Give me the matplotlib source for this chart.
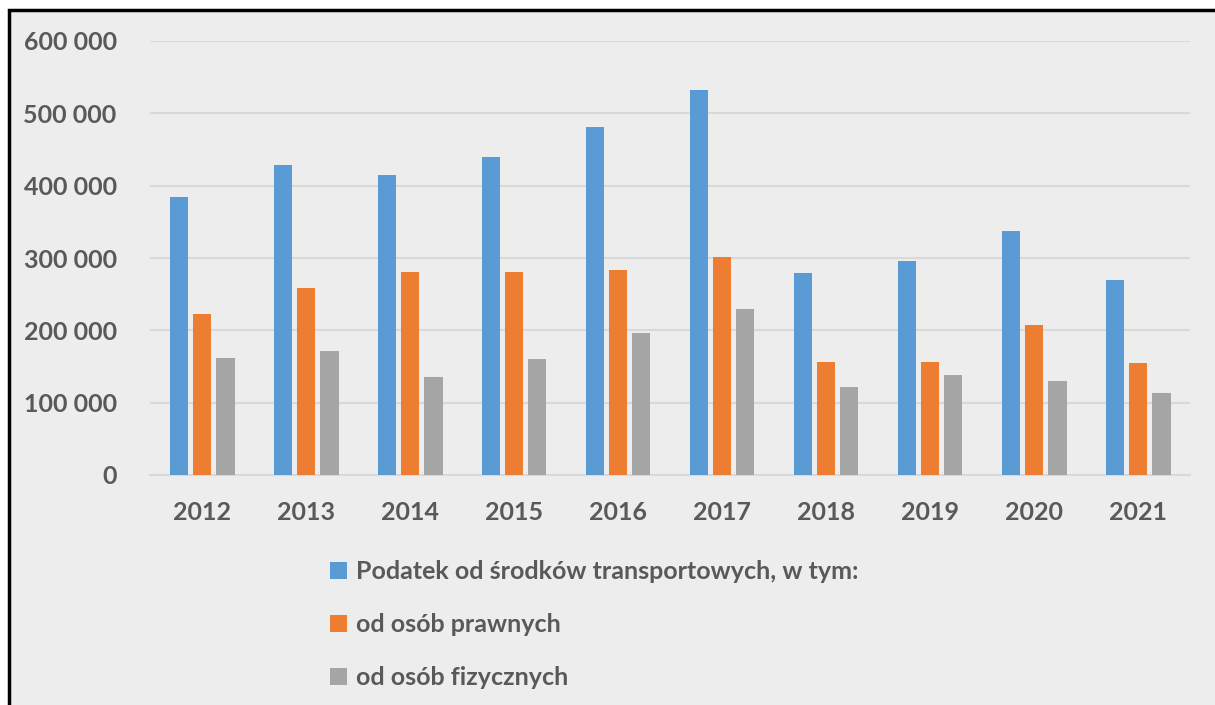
import numpy as np
import matplotlib
matplotlib.use("Agg")
import matplotlib.pyplot as plt
from matplotlib.patches import Rectangle
from matplotlib.ticker import FuncFormatter

# dane
lata = ["2012", "2013", "2014", "2015", "2016", "2017", "2018", "2019", "2020", "2021"]
podatek_ogolem = [384000, 429000, 415000, 440000, 481000, 532000, 279000, 296000, 338000, 269000]
osoby_prawne = [222000, 258000, 280000, 280000, 284000, 301000, 156000, 156000, 208000, 155000]
osoby_fizyczne = [162000, 171000, 135000, 160000, 196000, 230000, 122000, 138000, 130000, 114000]
etykiety = ["Podatek od środków transportowych, w tym:", "od osób prawnych", "od osób fizycznych"]

kolory = ["#5B9BD5", "#ED7D31", "#A5A5A5"]
tlo = "#EDEDED"
tekst = "#595959"

plt.rcParams['font.family'] = ['Lato', 'DejaVu Sans']

fig = plt.figure(figsize=(12.15, 7.05), dpi=100, facecolor="white")
# tlo z czarna ramka (lewa i gorna krawedz widoczne)
fig.patches.append(Rectangle((9 / 1215, -0.1), 1.2, 1 - 10 / 705 + 0.1, transform=fig.transFigure,
                             facecolor=tlo, edgecolor="black", linewidth=2.5, zorder=-10))

ax = fig.add_axes([150 / 1215, 1 - 475 / 705, (1190 - 150) / 1215, (475 - 41) / 705])
ax.set_facecolor("none")

x = np.arange(len(lata))
w = 0.175
off = 0.225
for i, (seria, nazwa) in enumerate(zip([podatek_ogolem, osoby_prawne, osoby_fizyczne], etykiety)):
    ax.bar(x + (i - 1) * off, seria, width=w, color=kolory[i], label=nazwa, zorder=3)

ax.set_xlim(-0.5, len(lata) - 0.5)
ax.set_ylim(0, 600000)
ax.set_yticks(np.arange(0, 600001, 100000))
ax.yaxis.set_major_formatter(FuncFormatter(lambda v, p: f"{int(v):,}".replace(",", " ")))
ax.set_xticks(x)
ax.set_xticklabels(lata)
ax.grid(axis="y", color="#D9D9D9", linewidth=1.5, zorder=0)
for s in ["top", "right", "left"]:
    ax.spines[s].set_visible(False)
ax.spines["bottom"].set_color("#D9D9D9")
ax.spines["bottom"].set_linewidth(1.5)
ax.tick_params(axis="both", length=0, labelsize=18, labelcolor=tekst)
ax.tick_params(axis="y", pad=24)
ax.tick_params(axis="x", pad=19)
for t in ax.get_xticklabels() + ax.get_yticklabels():
    t.set_fontweight("bold")

leg = fig.legend(loc="upper left", bbox_to_anchor=(330 / 1215, 1 - 560 / 705), frameon=False,
                 fontsize=18, handlelength=0.68, handleheight=0.68, handletextpad=0.35,
                 labelspacing=1.2, borderpad=0, borderaxespad=0)
for t in leg.get_texts():
    t.set_color(tekst)
    t.set_fontweight("bold")

fig.savefig("out.png", dpi=100, facecolor=fig.get_facecolor())
